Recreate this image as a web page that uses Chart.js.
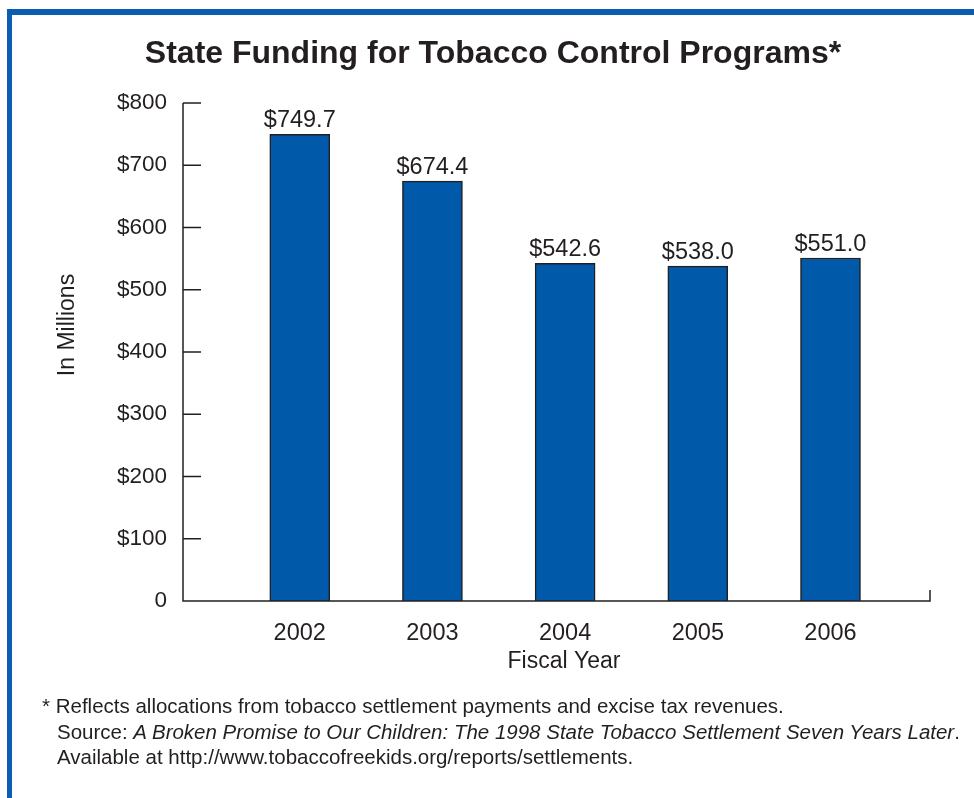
<!DOCTYPE html>
<html>
<head>
<meta charset="utf-8">
<script src="https://cdn.jsdelivr.net/npm/chart.js@4"></script>
<style>
  html, body { margin: 0; padding: 0; background: #fff; }
  #wrap { position: relative; width: 974px; height: 798px; overflow: hidden; }
  #frame {
    position: absolute; left: 7px; top: 9px; right: -10px; bottom: -10px;
    border-left: 5px solid #0a5db0; border-top: 6px solid #0a5db0;
  }
  #chart { position: absolute; left: 0; top: 0; }
  #note {
    position: absolute; left: 42px; top: 693px;
    font-family: "Liberation Sans", Arial, sans-serif; font-size: 20.5px;
    line-height: 25.5px; color: #231f20;
  }
  #note div.in { padding-left: 15px; }
</style>
</head>
<body>
<div id="wrap">
  <div id="frame"></div>
  <canvas id="chart" width="974" height="798"></canvas>
  <div id="note">
    <div>* Reflects allocations from tobacco settlement payments and excise tax revenues.</div>
    <div class="in">Source: <i>A Broken Promise to Our Children: The 1998 State Tobacco Settlement Seven Years Later</i>.</div>
    <div class="in">Available at http://www.tobaccofreekids.org/reports/settlements.</div>
  </div>
</div>
<script>
// Chart data
const years = ['2002', '2003', '2004', '2005', '2006'];
const funding = [749.7, 674.4, 542.6, 538.0, 551.0];
const yTicks = [0, 100, 200, 300, 400, 500, 600, 700, 800];

const chartTitle = 'State Funding for Tobacco Control Programs*';
const xTitle = 'Fiscal Year';
const yTitle = 'In Millions';

const ink = '#231f20';
const font = '"Liberation Sans", Arial, sans-serif';

// Draws axes with inward ticks, value labels and titles
const decorations = {
  id: 'decorations',
  afterDraw(chart) {
    const { ctx, chartArea, scales } = chart;
    const y = scales.y;
    const left = chartArea.left, right = chartArea.right;
    const zero = y.getPixelForValue(0);
    const top = y.getPixelForValue(800);

    ctx.save();
    ctx.strokeStyle = ink;
    ctx.lineWidth = 1.5;
    ctx.beginPath();
    ctx.moveTo(left, top);
    ctx.lineTo(left, zero);
    ctx.lineTo(right, zero);
    ctx.lineTo(right, zero - 11);
    yTicks.forEach(v => {
      const py = y.getPixelForValue(v);
      ctx.moveTo(left, py);
      ctx.lineTo(left + 18, py);
    });
    ctx.stroke();

    // value labels above bars
    ctx.fillStyle = ink;
    ctx.font = '23.5px ' + font;
    ctx.textAlign = 'center';
    ctx.textBaseline = 'alphabetic';
    chart.getDatasetMeta(0).data.forEach((bar, i) => {
      ctx.fillText('$' + funding[i].toFixed(1), bar.x, bar.y - 7);
    });

    // title
    ctx.font = 'bold 32px ' + font;
    ctx.fillText(chartTitle, 493, 63);

    // axis titles
    ctx.font = '23px ' + font;
    ctx.textBaseline = 'middle';
    ctx.fillText(xTitle, 564, 662);
    ctx.translate(68, 325);
    ctx.rotate(-Math.PI / 2);
    ctx.fillText(yTitle, 0, 0);
    ctx.restore();
  }
};

new Chart(document.getElementById('chart'), {
  type: 'bar',
  data: {
    datasets: [{
      data: funding.map((v, i) => ({ x: i, y: v })),
      backgroundColor: '#005aa9',
      borderColor: ink,
      borderWidth: 1.5,
      barThickness: 60
    }]
  },
  options: {
    responsive: false,
    animation: false,
    layout: { padding: { top: 103, right: 44, left: 0, bottom: 0 } },
    plugins: { legend: { display: false }, tooltip: { enabled: false } },
    scales: {
      x: {
        type: 'linear',
        offset: false,
        min: -0.88,
        max: 4.75,
        grid: { display: false, drawTicks: false, offset: false },
        border: { display: false },
        afterBuildTicks: scale => { scale.ticks = years.map((_, i) => ({ value: i })); },
        afterFit: scale => { scale.height = 197; },
        ticks: {
          padding: 18,
          color: ink,
          font: { family: font, size: 23.5 },
          maxRotation: 0,
          callback: v => years[v]
        }
      },
      y: {
        min: 0,
        max: 800,
        grid: { display: false, drawTicks: false },
        border: { display: false },
        afterFit: scale => { scale.width = 183; },
        ticks: {
          stepSize: 100,
          padding: 16,
          color: ink,
          font: { family: font, size: 22.5 },
          callback: v => v === 0 ? '0' : '$' + v
        }
      }
    }
  },
  plugins: [decorations]
});
</script>
</body>
</html>
